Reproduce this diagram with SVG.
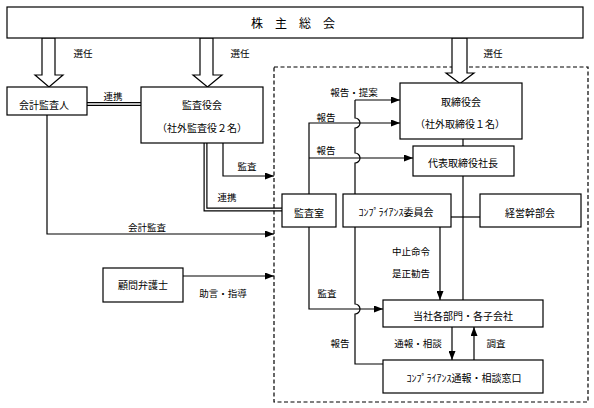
<svg xmlns="http://www.w3.org/2000/svg" width="594" height="408" viewBox="0 0 594 408">
<style>
text{font-family:"Noto Sans CJK JP","Liberation Sans",sans-serif;font-size:10px;fill:#000;text-anchor:middle;dominant-baseline:central}
.lbl{font-size:9.5px}
.small{font-size:9px}
.box{fill:#fff;stroke:#000;stroke-width:1.2}
.ln{fill:none;stroke:#000;stroke-width:1.2}
.arr{fill:none;stroke:#000;stroke-width:1.2;marker-end:url(#ah)}
.dbl1{fill:none;stroke:#000;stroke-width:4}
.dbl2{fill:none;stroke:#fff;stroke-width:1.6}
.hollow{fill:#fff;stroke:#000;stroke-width:1.2;stroke-linejoin:miter}
</style>
<defs>
<marker id="ah" markerUnits="userSpaceOnUse" markerWidth="9" markerHeight="7" refX="9" refY="3.5" orient="auto">
<path d="M0,0 L9,3.5 L0,7 z" fill="#000"/>
</marker>
</defs>
<rect width="594" height="408" fill="#fff"/>

<g id="scope">
<rect x="274" y="67" width="314" height="335" fill="none" stroke="#000" stroke-width="1.2" stroke-dasharray="4,2.5"/>
</g>

<g id="connectors">
<!-- hollow election arrows -->
<path class="hollow" d="M42,38 H55 V75 H63 L49,87 L35,75 H42 Z"/>
<path class="hollow" d="M200,38 H213 V75 H222 L207.5,87 L193,75 H200 Z"/>
<path class="hollow" d="M452,38 H467 V73 H474 L460,83.5 L446,73 H452 Z"/>
<text class="lbl" x="83" y="53">選任</text>
<text class="lbl" x="240" y="53">選任</text>
<text class="lbl" x="493" y="53">選任</text>

<!-- 連携 double line 会計監査人 - 監査役会 -->
<path class="dbl1" d="M87,104 H141"/>
<path class="dbl2" d="M87,104 H141"/>
<text class="lbl" x="113" y="96">連携</text>

<!-- 連携 double line 監査役会 - 監査室 -->
<path class="dbl1" d="M205.5,143 V209.5 H282"/>
<path class="dbl2" d="M205.5,143 V209.5 H282"/>
<text class="lbl" x="227" y="197">連携</text>

<!-- 監査 from 監査役会 -->
<path class="arr" d="M223,143 V176 H274"/>
<text class="lbl" x="247" y="166">監査</text>

<!-- 会計監査 -->
<path class="arr" d="M47,115 V234 H274"/>
<text class="lbl" x="147" y="227">会計監査</text>

<!-- 顧問弁護士 -->
<path class="arr" d="M183,276 H274"/>
<text class="lbl" x="223" y="293">助言・指導</text>

<!-- 取締役会 - 代表取締役社長 - 当社各部門 -->
<path class="ln" d="M463,139 V146"/>
<path class="ln" d="M463,176 V300"/>
<path class="ln" d="M450,217 H480"/>

<!-- 報告・提案 line with hops -->
<path class="ln" d="M355,194 V163 A5,5 0 0 0 355,153 V128 A5,5 0 0 0 355,118 V100"/>
<path class="arr" d="M355,100 H400"/>
<text class="lbl" x="354" y="92">報告・提案</text>

<!-- 報告 lines from 監査室 -->
<path class="arr" d="M309,194 V123 H400"/>
<path class="arr" d="M309,158 H413"/>
<text class="lbl" x="326" y="117">報告</text>
<text class="lbl" x="326" y="150">報告</text>

<!-- 監査 from 監査室 -->
<path class="arr" d="M309,227 V309 H383"/>
<text class="lbl" x="327" y="293">監査</text>

<!-- 報告 from 窓口 to コンプライアンス委員会 -->
<path class="ln" d="M355,227 V304 A5,5 0 0 1 355,314 V364 H383"/>
<text class="lbl" x="340" y="343">報告</text>

<!-- 中止命令 -->
<path class="arr" d="M440,227 V300"/>
<text class="lbl" x="411" y="251">中止命令</text>
<text class="lbl" x="411" y="273">是正勧告</text>

<!-- 通報・相談 / 調査 -->
<path class="arr" d="M452,327 V360"/>
<path class="arr" d="M474,360 V327"/>
<text class="lbl" x="418" y="343">通報・相談</text>
<text class="lbl" x="496" y="343">調査</text>
</g>

<g id="shareholders">
<rect class="box" x="7" y="7" width="576" height="31"/>
<text x="293" y="22.5" style="font-size:12px">株　主　総　会</text>
</g>

<g id="auditor">
<rect class="box" x="7" y="87" width="80" height="28"/>
<text x="44" y="104">会計監査人</text>
</g>

<g id="audit-board">
<rect class="box" x="141" y="87" width="122" height="56"/>
<text x="202" y="104">監査役会</text>
<text x="202" y="127">（社外監査役２名）</text>
</g>

<g id="board">
<rect class="box" x="400" y="83" width="122" height="56"/>
<text x="461" y="101">取締役会</text>
<text x="460" y="123">（社外取締役１名）</text>
</g>

<g id="president">
<rect class="box" x="413" y="146" width="101" height="30"/>
<text x="463" y="162">代表取締役社長</text>
</g>

<g id="audit-office">
<rect class="box" x="282" y="194" width="54" height="33"/>
<text x="309" y="212">監査室</text>
</g>

<g id="compliance-committee">
<rect class="box" x="343" y="194" width="108" height="33"/>
<text x="396" y="211">ｺﾝﾌﾟﾗｲｱﾝｽ委員会</text>
</g>

<g id="exec-committee">
<rect class="box" x="480" y="194" width="101" height="33"/>
<text x="530" y="212">経営幹部会</text>
</g>

<g id="lawyer">
<rect class="box" x="103" y="268" width="80" height="34"/>
<text x="143" y="284">顧問弁護士</text>
</g>

<g id="departments">
<rect class="box" x="383" y="300" width="160" height="27"/>
<text x="463" y="315">当社各部門・各子会社</text>
</g>

<g id="hotline">
<rect class="box" x="383" y="360" width="160" height="33"/>
<text x="464" y="377">ｺﾝﾌﾟﾗｲｱﾝｽ通報・相談窓口</text>
</g>
</svg>
